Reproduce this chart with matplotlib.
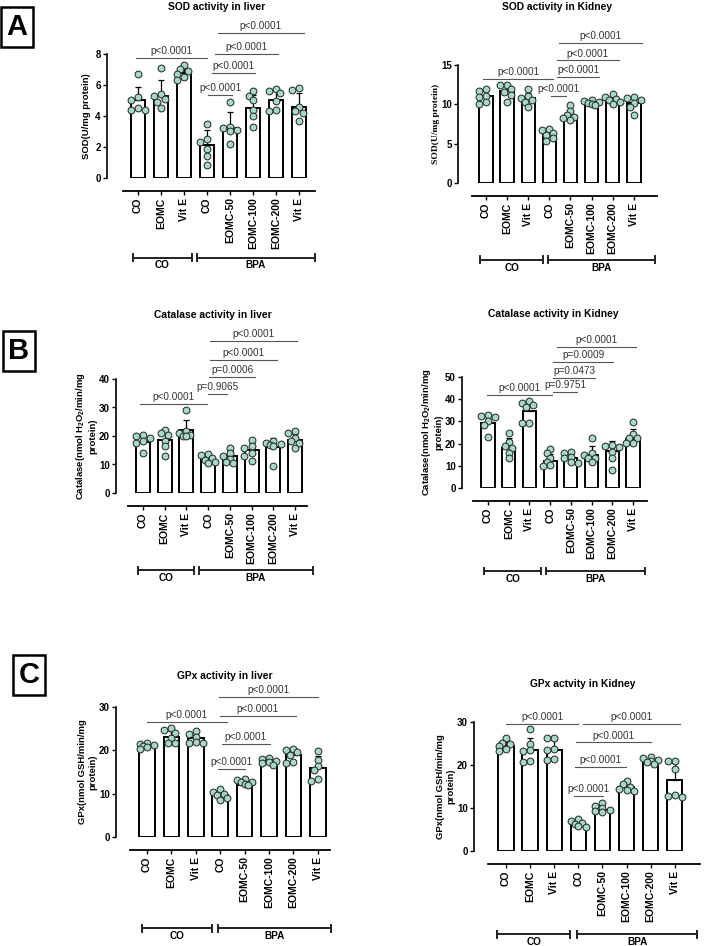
import numpy as np
import matplotlib
matplotlib.use("Agg")
import matplotlib.pyplot as plt
from matplotlib.transforms import blended_transform_factory

plt.rcParams['font.family'] = ['Liberation Sans', 'DejaVu Sans']
plt.rcParams['mathtext.fontset'] = 'custom'
plt.rcParams['mathtext.rm'] = 'Liberation Sans:bold'
plt.rcParams['mathtext.it'] = 'Liberation Sans:bold'
plt.rcParams['mathtext.bf'] = 'Liberation Sans:bold'

W, H = 709, 946

# ---------------- data ----------------
groups = ['CO', 'EOMC', 'Vit E', 'CO', 'EOMC-50', 'EOMC-100', 'EOMC-200', 'Vit E']
treatments = ['CO', 'BPA']

# SOD liver
sod_liver_mean = [5.0, 5.3, 6.75, 2.1, 3.2, 4.5, 5.05, 4.6]
sod_liver_sd = [0.9, 1.0, 0.35, 1.0, 1.05, 0.85, 0.65, 0.9]
sod_liver_pts = [
    [6.7, 5.2, 5.0, 4.5, 4.4, 4.4],
    [7.1, 5.4, 5.3, 5.1, 4.9, 4.5],
    [7.3, 7.0, 6.9, 6.7, 6.5, 6.3],
    [3.5, 2.5, 2.3, 1.9, 1.4, 0.85],
    [4.9, 3.3, 3.2, 3.1, 3.0, 2.2],
    [5.6, 5.3, 5.05, 4.4, 4.0, 3.3],
    [5.75, 5.6, 5.5, 4.95, 4.4, 4.3],
    [5.8, 5.65, 4.6, 4.3, 4.2, 3.65],
]
sod_liver_p = ['p<0.0001'] * 5

# SOD kidney
sod_kidney_mean = [11.0, 11.7, 10.8, 6.2, 8.5, 10.2, 10.5, 10.2]
sod_kidney_sd = [0.7, 0.7, 0.6, 0.6, 0.7, 0.25, 0.4, 0.8]
sod_kidney_pts = [
    [11.9, 11.7, 11.1, 10.9, 10.3, 10.1],
    [12.5, 12.4, 12.0, 11.6, 11.2, 10.3],
    [11.9, 11.0, 10.8, 10.5, 10.3, 9.7],
    [6.9, 6.7, 6.4, 6.1, 5.7, 5.3],
    [9.9, 9.1, 8.6, 8.4, 8.2, 8.0],
    [10.6, 10.4, 10.3, 10.2, 10.1, 9.9],
    [11.3, 10.9, 10.7, 10.5, 10.3, 10.1],
    [10.9, 10.8, 10.6, 10.2, 9.7, 8.7],
]
sod_kidney_p = ['p<0.0001'] * 5

# Catalase liver
cat_liver_mean = [18.0, 18.5, 22.0, 12.0, 13.0, 15.0, 16.0, 18.5]
cat_liver_sd = [2.2, 3.4, 3.6, 1.3, 1.8, 2.6, 3.3, 2.2]
cat_liver_pts = [
    [20.2, 19.9, 19.3, 18.1, 17.5, 14.0],
    [22.2, 21.0, 20.5, 18.1, 16.4, 12.9],
    [29.2, 21.8, 21.0, 20.5, 20.1, 19.9],
    [13.8, 13.2, 12.3, 11.5, 11.0, 10.5],
    [15.9, 14.0, 12.9, 12.0, 10.8, 10.6],
    [18.7, 16.4, 15.8, 14.0, 12.9, 11.1],
    [18.1, 17.6, 17.3, 17.0, 16.4, 9.4],
    [21.8, 21.0, 19.3, 18.1, 17.5, 15.9],
]
cat_liver_p = ['p<0.0001', 'p=0.9065', 'p=0.0006', 'p<0.0001', 'p<0.0001']

# Catalase kidney
cat_kidney_mean = [29.5, 18.0, 34.5, 12.3, 13.3, 15.0, 16.5, 22.0]
cat_kidney_sd = [3.5, 4.4, 4.0, 3.0, 1.9, 4.0, 4.8, 4.4]
cat_kidney_pts = [
    [33.0, 32.5, 32.2, 30.0, 28.4, 22.8],
    [24.6, 20.8, 19.0, 17.8, 15.9, 13.3],
    [39.0, 38.5, 37.5, 36.7, 29.5, 29.5],
    [17.4, 15.6, 13.3, 11.8, 10.3, 10.0],
    [16.3, 15.6, 14.0, 13.3, 11.8, 11.3],
    [22.5, 15.6, 14.8, 13.7, 13.3, 11.8],
    [19.3, 18.9, 18.6, 16.3, 13.3, 8.0],
    [29.6, 24.3, 22.7, 22.4, 20.4, 20.4],
]
cat_kidney_p = ['p<0.0001', 'p=0.9751', 'p=0.0473', 'p=0.0009', 'p<0.0001']

# GPx liver
gpx_liver_mean = [21.0, 23.0, 22.8, 9.7, 12.0, 17.3, 19.0, 16.0]
gpx_liver_sd = [0.7, 1.4, 1.2, 0.8, 0.7, 0.6, 1.2, 2.7]
gpx_liver_pts = [
    [21.8, 21.5, 21.2, 21.0, 20.8, 20.2],
    [25.2, 24.6, 24.1, 22.8, 21.7, 21.6],
    [24.4, 23.8, 23.1, 21.9, 21.7, 21.7],
    [11.0, 10.5, 10.0, 9.6, 9.0, 8.5],
    [13.4, 13.1, 12.8, 12.6, 12.3, 12.1],
    [18.3, 18.0, 17.6, 17.3, 17.0, 16.7],
    [20.4, 20.0, 19.6, 19.0, 17.3, 17.0],
    [19.8, 17.8, 16.5, 15.4, 13.3, 13.0],
]
gpx_liver_p = ['p<0.0001'] * 5

# GPx kidney
gpx_kidney_mean = [24.5, 23.5, 23.5, 6.0, 9.5, 15.0, 20.5, 16.5]
gpx_kidney_sd = [1.0, 2.7, 2.4, 0.7, 0.8, 1.0, 0.5, 3.9]
gpx_kidney_pts = [
    [26.2, 25.1, 24.8, 24.4, 23.8, 23.2],
    [28.3, 24.8, 23.6, 23.2, 20.9, 20.8],
    [26.3, 26.2, 23.8, 23.5, 21.3, 21.1],
    [7.4, 6.9, 6.4, 6.2, 5.8, 5.6],
    [11.1, 10.4, 9.9, 9.5, 9.2, 9.0],
    [16.3, 15.5, 14.9, 14.5, 14.2, 13.9],
    [21.9, 21.6, 21.2, 20.9, 20.6, 20.3],
    [21.0, 20.9, 19.0, 13.1, 12.9, 12.6],
]
gpx_kidney_p = ['p<0.0001'] * 5

# ---------------- layout (pixels / data units) ----------------
panels = [
    dict(mean=sod_liver_mean, sd=sod_liver_sd, pts=sod_liver_pts, plab=sod_liver_p,
         title='SOD activity in liver', title_xy=(217, 7),
         ylabel='SOD(U/mg protein)', ylab_font='Liberation Sans', ylab_off=16,
         ylim=(0, 8), yticks=[0, 2, 4, 6, 8],
         box=(107, 54, 315, 178), xlim=(-1.35, 7.7), axis_span=(-0.65, 7.7),
         grp_y=258, co_span=(-0.22, 2.35), bpa_span=(2.57, 7.7),
         plines=[(-0.1, 3.0, 7.74), (3.05, 4.1, 5.35), (3.2, 5.1, 6.77),
                 (3.35, 6.1, 8.0), (3.5, 7.2, 9.35)]),
    dict(mean=sod_kidney_mean, sd=sod_kidney_sd, pts=sod_kidney_pts, plab=sod_kidney_p,
         title='SOD activity in Kidney', title_xy=(557, 7),
         ylabel='SOD(U/mg protein)', ylab_font='Liberation Serif', ylab_off=18,
         ylim=(0, 15), yticks=[0, 5, 10, 15],
         box=(458, 65, 657, 183), xlim=(-1.33, 8.1), axis_span=(-0.66, 8.1),
         grp_y=260, co_span=(-0.28, 2.7), bpa_span=(2.94, 8.0),
         plines=[(-0.14, 3.18, 13.2), (3.08, 3.79, 11.05), (3.36, 5.36, 13.5),
                 (3.36, 6.3, 15.6), (3.46, 7.4, 17.8)]),
    dict(mean=cat_liver_mean, sd=cat_liver_sd, pts=cat_liver_pts, plab=cat_liver_p,
         title='Catalase activity in liver', title_xy=(213, 315),
         ylabel='Catalase(nmol H$_2$O$_2$/min/mg\nprotein)', ylab_font='Liberation Sans', ylab_off=19,
         ylim=(0, 40), yticks=[0, 10, 20, 30, 40],
         box=(116, 379, 307, 493), xlim=(-1.24, 7.55), axis_span=(-0.69, 7.55),
         grp_y=570, co_span=(-0.23, 2.35), bpa_span=(2.58, 7.83),
         plines=[(-0.14, 2.95, 31.2), (3.0, 3.87, 34.7), (3.04, 5.16, 40.7),
                 (3.09, 6.18, 46.7), (3.09, 7.1, 53.3)]),
    dict(mean=cat_kidney_mean, sd=cat_kidney_sd, pts=cat_kidney_pts, plab=cat_kidney_p,
         title='Catalase activity in Kidney', title_xy=(553, 314),
         ylabel='Catalase(nmol H$_2$O$_2$/min/mg\nprotein)', ylab_font='Liberation Sans', ylab_off=19,
         ylim=(0, 50), yticks=[0, 10, 20, 30, 40, 50],
         box=(462, 377, 647, 488), xlim=(-1.26, 7.68), axis_span=(-0.72, 7.68),
         grp_y=571, co_span=(-0.19, 2.56), bpa_span=(2.8, 7.58),
         plines=[(-0.05, 3.09, 41.9), (3.14, 4.3, 43.2), (3.14, 5.17, 49.5),
                 (3.14, 6.04, 56.8), (3.33, 7.15, 63.5)]),
    dict(mean=gpx_liver_mean, sd=gpx_liver_sd, pts=gpx_liver_pts, plab=gpx_liver_p,
         title='GPx activity in liver', title_xy=(225, 676),
         ylabel='GPx(nmol GSH/min/mg\nprotein)', ylab_font='Liberation Sans', ylab_off=19,
         ylim=(0, 30), yticks=[0, 10, 20, 30],
         box=(116, 707, 330, 837), xlim=(-1.27, 7.5), axis_span=(-0.7, 7.5),
         grp_y=928, co_span=(-0.2, 2.66), bpa_span=(2.9, 7.54),
         plines=[(0.0, 3.28, 26.6), (2.91, 4.02, 15.7), (3.07, 5.04, 21.5),
                 (2.99, 6.1, 27.9), (2.95, 7.0, 32.3)]),
    dict(mean=gpx_kidney_mean, sd=gpx_kidney_sd, pts=gpx_kidney_pts, plab=gpx_kidney_p,
         title='GPx actvity in Kidney', title_xy=(583, 684),
         ylabel='GPx(nmol GSH/min/mg\nprotein)', ylab_font='Liberation Sans', ylab_off=19,
         ylim=(0, 30), yticks=[0, 10, 20, 30],
         box=(474, 722, 700, 851), xlim=(-1.33, 8.05), axis_span=(-0.75, 8.05),
         grp_y=934, co_span=(-0.37, 2.66), bpa_span=(2.95, 7.93),
         plines=[(0.0, 2.99, 29.5), (3.2, 7.22, 29.5), (2.9, 6.02, 25.3),
                 (2.86, 4.98, 19.5), (2.82, 4.02, 12.8)]),
]
panel_letters = [('A', 17, 27), ('B', 19, 351), ('C', 29, 675)]


def swarm(vals, sx, sy, d=4.8, step=3.6):
    # small beeswarm kept inside the bar: pick the least crowded of 5 slots
    vals = np.asarray(vals, dtype=float)
    offs = np.zeros(len(vals))
    placed = []
    for i in np.argsort(vals)[::-1]:
        best, best_gap = 0.0, -1.0
        for c in [0, -1, 1, -2, 2]:
            dx = c * step / sx
            gap = min([np.hypot((dx - ox) * sx, (vals[i] - oy) * sy) for ox, oy in placed],
                      default=99.0)
            if gap >= d:
                best = dx
                break
            if gap > best_gap + 0.5:
                best, best_gap = dx, gap
        offs[i] = best
        placed.append((best, vals[i]))
    return offs


fig = plt.figure(figsize=(W / 100, H / 100), dpi=100)

for p in panels:
    x0, yt, x1, yb = p['box']
    ax = fig.add_axes([x0 / W, 1 - yb / H, (x1 - x0) / W, (yb - yt) / H])
    # spines first: moving a spine rebuilds the ticks
    for s in ['top', 'right']:
        ax.spines[s].set_visible(False)
    ax.spines['left'].set_linewidth(1.2)
    ax.spines['bottom'].set_linewidth(1.3)
    ax.spines['bottom'].set_position(('outward', 9.5))
    ax.patch.set_alpha(0)

    x = np.arange(len(p['mean']))
    ax.bar(x, p['mean'], width=0.64, color='white', edgecolor='black', linewidth=1.4, zorder=2)
    ax.errorbar(x, p['mean'], yerr=[np.zeros(len(x)), p['sd']], fmt='none', ecolor='black',
                elinewidth=0.9, capsize=2.5, capthick=0.9, zorder=3)
    sx = (x1 - x0) / (p['xlim'][1] - p['xlim'][0])
    sy = (yb - yt) / (p['ylim'][1] - p['ylim'][0])
    for i, vals in enumerate(p['pts']):
        off = swarm(vals, sx, sy)
        ax.scatter(i + off, vals, s=24, facecolor='#a6d9c7', edgecolor='#2d2d2d',
                   linewidth=0.75, zorder=4, clip_on=False)

    ax.set_xlim(*p['xlim'])
    ax.set_ylim(*p['ylim'])
    ax.spines['bottom'].set_bounds(*p['axis_span'])
    ax.set_yticks(p['yticks'])
    ax.set_xticks(x)
    ax.set_xticklabels(groups, rotation=90, fontsize=7.5, fontweight='bold')
    ax.tick_params(axis='both', length=3, width=1.0, pad=1.5)
    for t in ax.get_yticklabels():
        t.set_fontsize(7)
        t.set_fontweight('bold')

    ax.set_ylabel(p['ylabel'], fontsize=6.8, fontweight='bold', family=p['ylab_font'],
                  linespacing=1.1)
    ax.yaxis.set_label_coords(-p['ylab_off'] / (x1 - x0), 0.5)

    # comparison lines
    for (xa, xb, yv), lab in zip(p['plines'], p['plab']):
        ax.plot([xa, xb], [yv, yv], color='#555555', lw=0.8, clip_on=False, zorder=5)
        ax.annotate(lab, ((xa + xb) / 2, yv), xytext=(0, 1.2), textcoords='offset points',
                    ha='center', va='bottom', fontsize=7.2, color='#333333',
                    annotation_clip=False)

    # group brackets below the axis
    tr = blended_transform_factory(ax.transData, fig.transFigure)
    gy = 1 - p['grp_y'] / H
    for (a, b), name in zip([p['co_span'], p['bpa_span']], treatments):
        ax.plot([a, b], [gy, gy], transform=tr, color='#222222', lw=1.4, clip_on=False)
        for e in (a, b):
            ax.plot([e, e], [gy - 3.5 / H, gy + 3.5 / H], transform=tr, color='#222222',
                    lw=1.4, clip_on=False)
        ax.text((a + b) / 2, gy - 7.5 / H, name, transform=tr, ha='center', va='center',
                fontsize=7.2, fontweight='bold')

    fig.text(p['title_xy'][0] / W, 1 - p['title_xy'][1] / H, p['title'], ha='center',
             va='center', fontsize=7.4, fontweight='bold')

for letter, lx, ly in panel_letters:
    fig.text(lx / W, 1 - ly / H, letter, ha='center', va='center', fontsize=21,
             fontweight='bold',
             bbox=dict(boxstyle='square,pad=0.2', facecolor='white', edgecolor='black', lw=1.8))

fig.savefig('out.png', dpi=100)
